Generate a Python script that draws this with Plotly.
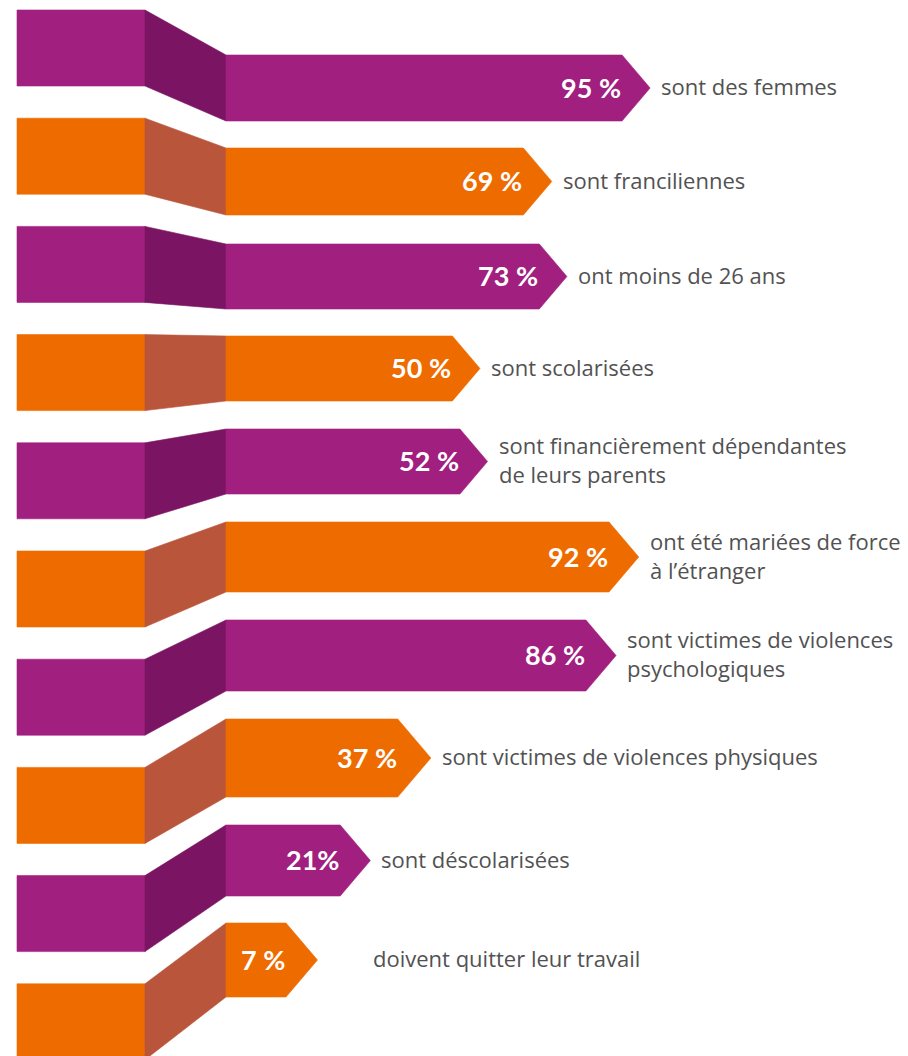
import plotly.graph_objects as go

# ---------------- data ----------------
categories = [
    "sont des femmes",
    "sont franciliennes",
    "ont moins de 26 ans",
    "sont scolarisées",
    "sont financièrement dépendantes<br>de leurs parents",
    "ont été mariées de force<br>à l’étranger",
    "sont victimes de violences<br>psychologiques",
    "sont victimes de violences physiques",
    "sont déscolarisées",
    "doivent quitter leur travail",
]
values = [95, 69, 73, 50, 52, 92, 86, 37, 21, 7]
pct_labels = ["95 %", "69 %", "73 %", "50 %", "52\u202f%", "92\u202f%",
              "86\u202f%", "37\u202f%", "21%", "7 %"]

# ---------------- layout / style ----------------
W, H = 908, 1056
PURPLE, PURPLE_DARK = "#A11F7F", "#7B1462"
ORANGE, ORANGE_DARK = "#EE6B00", "#B9553B"
TEXT_GRAY = "#525252"

LEFT_X0, LEFT_X1 = 17, 145
BAR_X0 = 226
LEFT_TOP0, LEFT_STEP, LEFT_H = 10, 108.2, 76
# right bar vertical extents (design layout)
bar_tops = [55, 148, 244, 336, 429, 522, 620, 719, 825, 923]
bar_bots = [121, 215, 309, 401, 494, 592, 691, 797, 896, 997]
# linear scale: percent -> pixel position of the arrow tip
TIP_BASE, TIP_SCALE = 291.0, 3.78
LABEL_GAP = 9
label_gap_override = {9: 54}
LABEL_SIZE = 22

fig = go.Figure()


def poly(xs, ys, color):
    fig.add_trace(go.Scatter(
        x=xs + [xs[0]], y=ys + [ys[0]], mode="lines", fill="toself",
        fillcolor=color, line=dict(color=color, width=0.6),
        hoverinfo="skip", showlegend=False))


for i, (cat, v) in enumerate(zip(categories, values)):
    main = PURPLE if i % 2 == 0 else ORANGE
    dark = PURPLE_DARK if i % 2 == 0 else ORANGE_DARK
    lt = LEFT_TOP0 + LEFT_STEP * i
    lb = lt + LEFT_H
    rt, rb = bar_tops[i], bar_bots[i]
    rc = (rt + rb) / 2
    half = (rb - rt) / 2
    tip = TIP_BASE + TIP_SCALE * v
    shoulder = tip - 0.85 * half

    # left block
    poly([LEFT_X0, LEFT_X1, LEFT_X1, LEFT_X0], [lt, lt, lb, lb], main)
    # connector
    poly([LEFT_X1, BAR_X0, BAR_X0, LEFT_X1], [lt, rt, rb, lb], dark)
    # arrow bar
    poly([BAR_X0, shoulder, tip, shoulder, BAR_X0], [rt, rt, rc, rb, rb], main)

    # percentage text
    fig.add_annotation(x=shoulder + 1, y=rc - 1, text=f"<b>{pct_labels[i]}</b>",
                       xanchor="right", yanchor="middle", showarrow=False,
                       font=dict(family="Lato", size=27, color="white"))
    # label text
    gap = label_gap_override.get(i, LABEL_GAP)
    fig.add_annotation(x=tip + gap, y=rc - 2, text=cat, align="left",
                       xanchor="left", yanchor="middle", showarrow=False,
                       font=dict(family="Open Sans", size=LABEL_SIZE,
                                 color=TEXT_GRAY))

fig.update_layout(
    width=W, height=H, margin=dict(l=0, r=0, t=0, b=0),
    paper_bgcolor="white", plot_bgcolor="white",
    xaxis=dict(range=[0, W], visible=False, fixedrange=True),
    yaxis=dict(range=[H, 0], visible=False, fixedrange=True),
)

fig.write_html("out.html", config={"displayModeBar": False},
               post_script="document.body.style.margin='0';")
